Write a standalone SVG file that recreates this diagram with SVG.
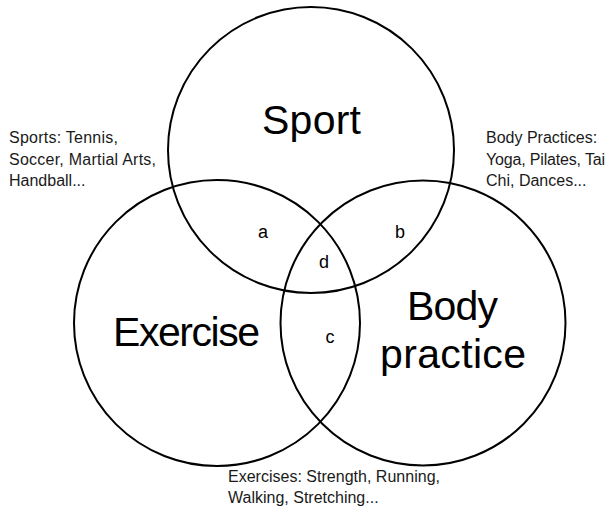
<svg xmlns="http://www.w3.org/2000/svg" width="606" height="508" viewBox="0 0 606 508">
<style>
.ring{fill:none;stroke:#000;stroke-width:2}
.big{font-family:"Liberation Sans",Arial,sans-serif;font-size:41px;fill:#000;text-anchor:middle}
.lbl{font-family:"Liberation Sans",Arial,sans-serif;font-size:18px;fill:#000;text-anchor:middle}
.note{font-family:"Liberation Sans",Arial,sans-serif;font-size:16px;fill:#1a1a1a}
</style>
<rect width="606" height="508" fill="#fff"/>
<g id="sport">
<circle class="ring" cx="311" cy="150" r="143"/>
<text class="big" x="311.5" y="134" textLength="99">Sport</text>
</g>
<g id="exercise">
<circle class="ring" cx="217" cy="323" r="143"/>
<text class="big" x="186.5" y="346" textLength="147">Exercise</text>
</g>
<g id="body-practice">
<circle class="ring" cx="423" cy="323" r="142.5"/>
<text class="big" x="452.5" y="320" textLength="91">Body</text>
<text class="big" x="453" y="368" textLength="146">practice</text>
</g>
<g id="overlaps">
<text class="lbl" x="263" y="238">a</text>
<text class="lbl" x="400" y="238">b</text>
<text class="lbl" x="330" y="343">c</text>
<text class="lbl" x="324" y="268">d</text>
</g>
<g id="note-sports">
<text class="note" x="9" y="143" textLength="109">Sports: Tennis,</text>
<text class="note" x="9" y="165" textLength="147">Soccer, Martial Arts,</text>
<text class="note" x="9" y="186">Handball...</text>
</g>
<g id="note-body">
<text class="note" x="486" y="143">Body Practices:</text>
<text class="note" x="486" y="164.5" textLength="119">Yoga, Pilates, Tai</text>
<text class="note" x="486" y="186">Chi, Dances...</text>
</g>
<g id="note-exercise">
<text class="note" x="228" y="482" textLength="212">Exercises: Strength, Running,</text>
<text class="note" x="228" y="503">Walking, Stretching...</text>
</g>
<g id="connectors"></g>
</svg>
